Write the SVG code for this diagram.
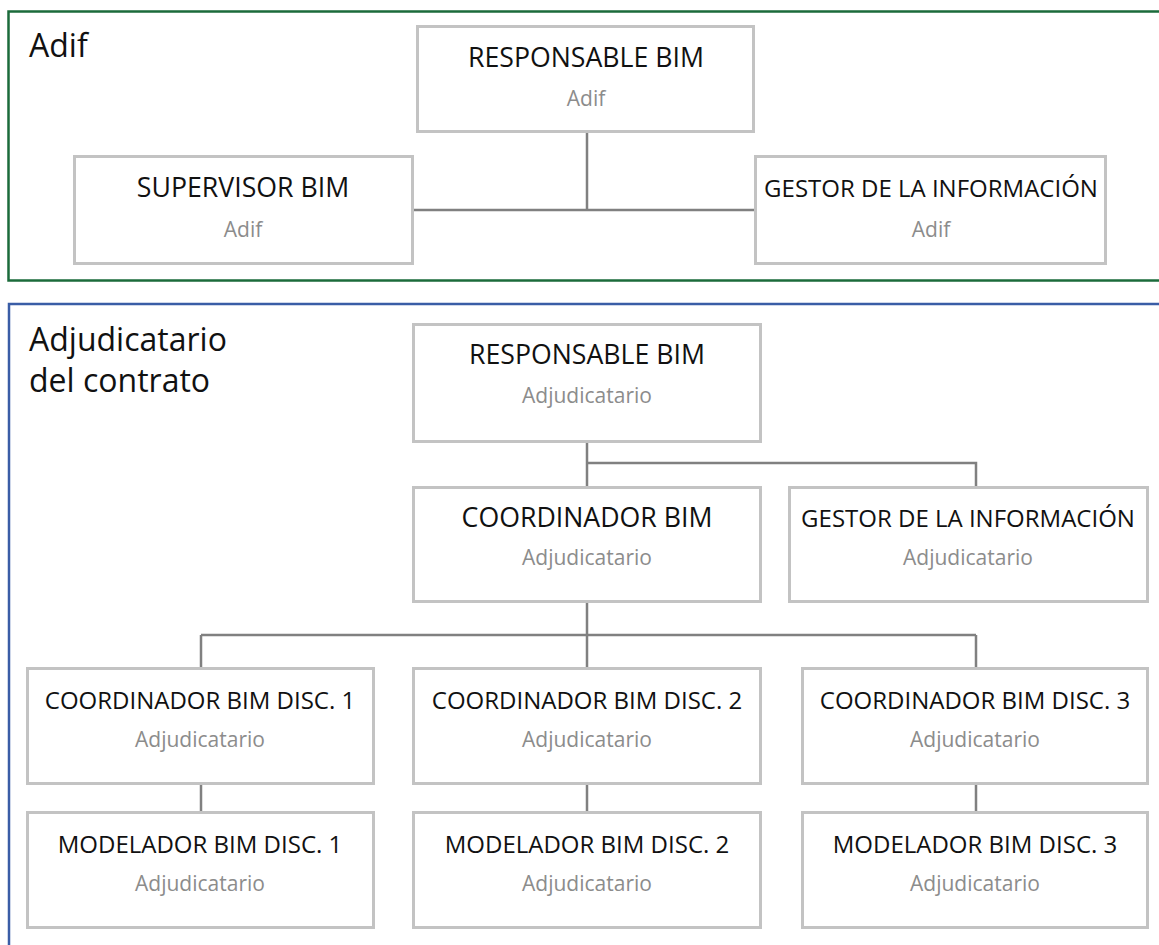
<svg xmlns="http://www.w3.org/2000/svg" width="1159" height="945" viewBox="0 0 1159 945">
<style>
.frame{fill:none;stroke-width:2.5}
.box{fill:#fff;stroke:#c3c3c3;stroke-width:3}
.t{font-family:"Open Sans","Liberation Sans",sans-serif;font-size:24px;fill:#111;text-anchor:middle}
.tl{font-size:26.7px}
.s{font-family:"Open Sans","Liberation Sans",sans-serif;font-size:21px;fill:#8c8c8c;text-anchor:middle}
.h{font-family:"Open Sans","Liberation Sans",sans-serif;font-size:32px;fill:#111}
.c{fill:none;stroke:#808080;stroke-width:2.5}
</style>
<rect width="1159" height="945" fill="#fff"/>
<g id="frame-adif">
<rect class="frame" x="8.5" y="11.5" width="1170" height="269" stroke="#1b6b3b"/>
<text class="h" x="29" y="57">Adif</text>
</g>
<g id="frame-adjudicatario">
<rect class="frame" x="9" y="304" width="1170" height="700" stroke="#3a5da6"/>
<text class="h" x="29" y="351">Adjudicatario</text>
<text class="h" x="29" y="392">del contrato</text>
</g>
<g id="connectors">
<path class="c" d="M587,133 V210 M414,210 H754"/>
<path class="c" d="M587,443 V486 M587,463 H976 V486"/>
<path class="c" d="M587,603 V667 M201,635 H976 M201,635 V667 M976,635 V667"/>
<path class="c" d="M201,785 V812 M587,785 V812 M976,785 V812"/>
</g>
<g id="n-resp-adif">
<rect class="box" x="417.5" y="26.5" width="336" height="105"/>
<text class="t tl" x="586" y="67">RESPONSABLE BIM</text>
<text class="s" x="586" y="106">Adif</text>
</g>
<g id="n-sup-adif">
<rect class="box" x="74.5" y="156.5" width="338" height="107"/>
<text class="t tl" x="243" y="197">SUPERVISOR BIM</text>
<text class="s" x="243" y="237">Adif</text>
</g>
<g id="n-gest-adif">
<rect class="box" x="755.5" y="156.5" width="350" height="107"/>
<text class="t" x="931" y="197">GESTOR DE LA INFORMACIÓN</text>
<text class="s" x="931" y="237">Adif</text>
</g>
<g id="n-resp-adj">
<rect class="box" x="413.5" y="324.5" width="347" height="117"/>
<text class="t tl" x="587" y="364">RESPONSABLE BIM</text>
<text class="s" x="587" y="403">Adjudicatario</text>
</g>
<g id="n-coord-adj">
<rect class="box" x="413.5" y="487.5" width="347" height="114"/>
<text class="t tl" x="587" y="527">COORDINADOR BIM</text>
<text class="s" x="587" y="565">Adjudicatario</text>
</g>
<g id="n-gest-adj">
<rect class="box" x="789.5" y="487.5" width="358" height="114"/>
<text class="t" x="968" y="527">GESTOR DE LA INFORMACIÓN</text>
<text class="s" x="968" y="565">Adjudicatario</text>
</g>
<g id="n-cd1">
<rect class="box" x="27.5" y="668.5" width="346" height="115"/>
<text class="t" x="200" y="709">COORDINADOR BIM DISC. 1</text>
<text class="s" x="200" y="747">Adjudicatario</text>
</g>
<g id="n-cd2">
<rect class="box" x="413.5" y="668.5" width="347" height="115"/>
<text class="t" x="587" y="709">COORDINADOR BIM DISC. 2</text>
<text class="s" x="587" y="747">Adjudicatario</text>
</g>
<g id="n-cd3">
<rect class="box" x="802.5" y="668.5" width="345" height="115"/>
<text class="t" x="975" y="709">COORDINADOR BIM DISC. 3</text>
<text class="s" x="975" y="747">Adjudicatario</text>
</g>
<g id="n-md1">
<rect class="box" x="27.5" y="812.5" width="346" height="115"/>
<text class="t" x="200" y="853">MODELADOR BIM DISC. 1</text>
<text class="s" x="200" y="891">Adjudicatario</text>
</g>
<g id="n-md2">
<rect class="box" x="413.5" y="812.5" width="347" height="115"/>
<text class="t" x="587" y="853">MODELADOR BIM DISC. 2</text>
<text class="s" x="587" y="891">Adjudicatario</text>
</g>
<g id="n-md3">
<rect class="box" x="802.5" y="812.5" width="345" height="115"/>
<text class="t" x="975" y="853">MODELADOR BIM DISC. 3</text>
<text class="s" x="975" y="891">Adjudicatario</text>
</g>
</svg>
